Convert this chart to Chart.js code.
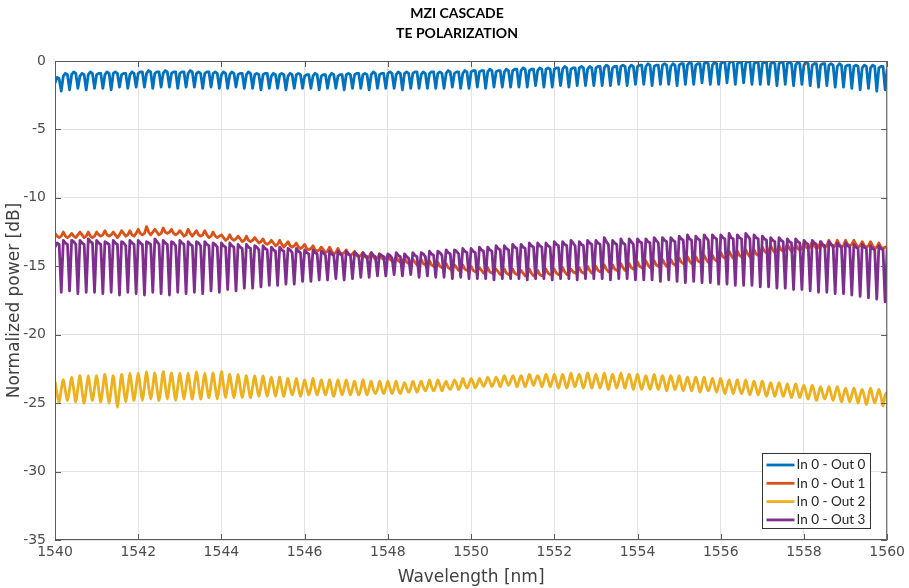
<!DOCTYPE html>
<html>
<head>
<meta charset="utf-8">
<title>MZI CASCADE - TE POLARIZATION</title>
<script src="https://cdn.jsdelivr.net/npm/chart.js@4.4.1/dist/chart.umd.min.js"></script>
<style>
  html, body { margin: 0; padding: 0; background: #ffffff; }
  canvas { display: block; }
</style>
</head>
<body>
<canvas id="spectrum" width="909" height="588"></canvas>
<script>
// Sweep: 1540–1560 nm sampled every 0.05 nm (401 samples per port)
const wavelengthStart = 1540;
const wavelengthStep = 0.05;

const xTicks = [1540, 1542, 1544, 1546, 1548, 1550, 1552, 1554, 1556, 1558, 1560];
const yTicks = [0, -5, -10, -15, -20, -25, -30, -35];

const seriesNames = ['In 0 - Out 0', 'In 0 - Out 1', 'In 0 - Out 2', 'In 0 - Out 3'];

// Normalized transmission [dB], one row per nanometre
const out0 = [
  -1.6,-1.2,-1.3,-2.2, -1.1,-0.9,-1.0,-2.1, -1.0,-0.8,-0.9,-2.0, -1.1,-0.9,-1.0,-2.1, -1.0,-0.8,-0.9,-2.0,
  -1.0,-0.9,-0.9,-2.0, -1.0,-0.8,-0.9,-2.1, -0.9,-0.8,-0.9,-1.9, -1.0,-0.9,-0.9,-2.0, -1.0,-0.8,-0.9,-1.9,
  -0.9,-0.8,-0.8,-1.9, -0.9,-0.7,-0.8,-2.0, -0.9,-0.8,-0.8,-1.9, -0.9,-0.7,-0.8,-1.9, -0.9,-0.8,-0.8,-2.0,
  -0.9,-0.8,-0.8,-1.9, -0.9,-0.7,-0.8,-1.9, -0.9,-0.8,-0.9,-2.0, -0.9,-0.8,-0.8,-1.9, -0.9,-0.8,-0.9,-2.0,
  -1.0,-0.8,-0.9,-2.0, -1.0,-0.8,-0.9,-1.9, -1.0,-0.9,-0.9,-2.0, -1.0,-0.8,-0.9,-2.0, -1.0,-0.9,-1.0,-2.1,
  -1.0,-0.9,-0.9,-2.0, -1.1,-0.9,-1.0,-2.0, -1.0,-0.9,-1.0,-2.1, -1.1,-0.9,-1.0,-2.0, -1.0,-0.9,-1.0,-2.0,
  -1.1,-1.0,-1.0,-2.0, -1.1,-0.9,-1.0,-2.1, -1.1,-1.0,-1.0,-2.0, -1.1,-0.9,-1.0,-2.0, -1.1,-1.0,-1.0,-2.1,
  -1.0,-0.9,-1.0,-2.0, -1.0,-0.9,-0.9,-2.0, -1.0,-0.9,-1.0,-2.1, -1.0,-0.8,-0.9,-2.0, -1.0,-0.9,-0.9,-2.0,
  -0.9,-0.8,-0.9,-2.0, -1.0,-0.8,-0.9,-2.1, -0.9,-0.8,-0.9,-2.0, -0.9,-0.8,-0.8,-2.0, -1.0,-0.8,-0.9,-2.0,
  -0.9,-0.8,-0.8,-2.0, -0.9,-0.8,-0.9,-2.0, -0.9,-0.7,-0.8,-1.9, -0.9,-0.8,-0.8,-2.0, -0.9,-0.7,-0.8,-2.0,
  -0.8,-0.7,-0.7,-1.9, -0.8,-0.7,-0.7,-2.0, -0.8,-0.6,-0.7,-1.9, -0.8,-0.7,-0.7,-1.9, -0.8,-0.6,-0.7,-1.9,
  -0.7,-0.6,-0.6,-1.9, -0.7,-0.5,-0.6,-1.9, -0.7,-0.6,-0.6,-1.8, -0.7,-0.5,-0.6,-1.9, -0.6,-0.5,-0.6,-1.9,
  -0.6,-0.5,-0.5,-1.8, -0.6,-0.4,-0.5,-1.9, -0.6,-0.5,-0.5,-1.8, -0.5,-0.4,-0.5,-1.8, -0.6,-0.4,-0.5,-1.8,
  -0.5,-0.4,-0.4,-1.8, -0.5,-0.3,-0.4,-1.8, -0.5,-0.4,-0.4,-1.7, -0.4,-0.3,-0.4,-1.8, -0.5,-0.3,-0.4,-1.7,
  -0.4,-0.3,-0.3,-1.7, -0.4,-0.2,-0.3,-1.8, -0.4,-0.3,-0.3,-1.7, -0.3,-0.2,-0.3,-1.7, -0.4,-0.2,-0.3,-1.8,
  -0.3,-0.2,-0.2,-1.7, -0.3,-0.1,-0.2,-1.7, -0.3,-0.2,-0.2,-1.6, -0.2,-0.1,-0.2,-1.7, -0.3,-0.1,-0.2,-1.7,
  -0.2,-0.1,-0.1,-1.6, -0.2, 0.0,-0.1,-1.7, -0.2,-0.1,-0.1,-1.6, -0.2, 0.0,-0.1,-1.7, -0.2,-0.1,-0.1,-1.7,
  -0.2,-0.1,-0.1,-1.7, -0.2,-0.1,-0.2,-1.8, -0.2,-0.1,-0.1,-1.7, -0.2,-0.1,-0.2,-1.8, -0.3,-0.1,-0.2,-1.7,
  -0.3,-0.1,-0.2,-1.8, -0.3,-0.2,-0.2,-1.9, -0.3,-0.2,-0.2,-1.8, -0.3,-0.2,-0.3,-1.9, -0.4,-0.2,-0.3,-1.9,
  -0.4,-0.3,-0.3,-2.0, -0.4,-0.3,-0.4,-2.1, -0.5,-0.3,-0.4,-2.0, -0.5,-0.3,-0.4,-2.2, -0.5,-0.4,-0.4,-2.1,
  -0.6
];

const out1 = [
  -12.6,-12.8,-12.9,-12.8, -12.5,-12.8,-12.9,-12.8, -12.6,-12.8,-12.9,-12.7, -12.5,-12.7,-12.9,-12.8, -12.5,-12.8,-12.9,-12.8,
  -12.5,-12.7,-12.8,-12.7, -12.4,-12.7,-12.8,-12.7, -12.5,-12.7,-12.9,-12.7, -12.4,-12.6,-12.8,-12.7, -12.4,-12.7,-12.8,-12.6,
  -12.3,-12.6,-12.7,-12.6, -12.1,-12.5,-12.7,-12.5, -12.3,-12.5,-12.7,-12.6, -12.2,-12.5,-12.6,-12.5, -12.3,-12.6,-12.7,-12.6,
  -12.4,-12.6,-12.8,-12.7, -12.3,-12.6,-12.8,-12.6, -12.4,-12.7,-12.8,-12.7, -12.4,-12.7,-12.9,-12.8, -12.5,-12.8,-12.9,-12.8,
  -12.7,-12.9,-13.1,-13.0, -12.7,-13.0,-13.1,-13.0, -12.8,-13.0,-13.2,-13.1, -12.8,-13.1,-13.2,-13.1, -12.9,-13.1,-13.3,-13.2,
  -13.0,-13.3,-13.4,-13.3, -13.1,-13.3,-13.5,-13.4, -13.1,-13.4,-13.6,-13.4, -13.2,-13.5,-13.6,-13.5, -13.3,-13.6,-13.7,-13.6,
  -13.4,-13.7,-13.8,-13.7, -13.5,-13.8,-13.9,-13.8, -13.6,-13.8,-14.0,-13.9, -13.6,-13.9,-14.1,-14.0, -13.7,-14.0,-14.1,-14.0,
  -13.8,-14.1,-14.2,-14.1, -13.9,-14.2,-14.3,-14.2, -14.0,-14.3,-14.4,-14.3, -14.0,-14.3,-14.5,-14.4, -14.1,-14.4,-14.5,-14.4,
  -14.2,-14.5,-14.6,-14.6, -14.3,-14.6,-14.7,-14.6, -14.4,-14.7,-14.8,-14.7, -14.5,-14.7,-14.9,-14.8, -14.5,-14.8,-14.9,-14.8,
  -14.6,-14.9,-15.0,-15.0, -14.7,-15.0,-15.1,-15.0, -14.8,-15.1,-15.2,-15.1, -14.9,-15.1,-15.3,-15.2, -14.9,-15.2,-15.3,-15.2,
  -15.0,-15.3,-15.4,-15.3, -15.1,-15.3,-15.5,-15.4, -15.1,-15.4,-15.5,-15.4, -15.2,-15.4,-15.6,-15.5, -15.2,-15.5,-15.6,-15.5,
  -15.2,-15.5,-15.6,-15.5, -15.3,-15.5,-15.7,-15.6, -15.2,-15.5,-15.7,-15.6, -15.3,-15.6,-15.7,-15.6, -15.2,-15.5,-15.6,-15.5,
  -15.2,-15.5,-15.6,-15.5, -15.1,-15.4,-15.6,-15.5, -15.2,-15.4,-15.5,-15.4, -15.1,-15.4,-15.5,-15.4, -15.0,-15.3,-15.5,-15.4,
  -15.0,-15.3,-15.4,-15.3, -14.9,-15.2,-15.4,-15.3, -14.9,-15.2,-15.3,-15.2, -14.8,-15.1,-15.3,-15.2, -14.8,-15.1,-15.2,-15.1,
  -14.7,-15.0,-15.1,-15.0, -14.6,-14.9,-15.1,-15.0, -14.6,-14.9,-15.0,-14.9, -14.5,-14.8,-15.0,-14.9, -14.5,-14.8,-14.9,-14.8,
  -14.4,-14.7,-14.8,-14.7, -14.3,-14.6,-14.8,-14.7, -14.3,-14.6,-14.7,-14.6, -14.2,-14.5,-14.7,-14.6, -14.2,-14.5,-14.6,-14.5,
  -14.0,-14.3,-14.4,-14.3, -13.9,-14.2,-14.4,-14.3, -13.9,-14.2,-14.3,-14.2, -13.8,-14.1,-14.3,-14.2, -13.8,-14.1,-14.2,-14.1,
  -13.6,-13.9,-14.0,-13.9, -13.5,-13.8,-14.0,-13.9, -13.5,-13.8,-13.9,-13.8, -13.4,-13.7,-13.9,-13.8, -13.4,-13.7,-13.8,-13.7,
  -13.3,-13.6,-13.7,-13.6, -13.2,-13.5,-13.7,-13.6, -13.2,-13.5,-13.6,-13.5, -13.1,-13.4,-13.6,-13.5, -13.1,-13.4,-13.6,-13.5,
  -13.1,-13.4,-13.5,-13.4, -13.1,-13.4,-13.6,-13.5, -13.2,-13.5,-13.6,-13.5, -13.2,-13.5,-13.7,-13.6, -13.3,-13.6,-13.7,-13.6,
  -13.6
];

const out2 = [
  -23.4,-24.3,-24.9,-24.0, -23.3,-24.1,-24.8,-24.0, -23.1,-24.0,-24.9,-23.9, -23.0,-24.1,-25.0,-24.0, -23.0,-24.0,-24.8,-23.9,
  -23.0,-24.0,-24.9,-23.9, -22.9,-24.0,-25.0,-24.0, -23.0,-24.1,-25.3,-24.1, -22.9,-23.9,-24.9,-23.9, -22.8,-23.9,-24.8,-23.8,
  -22.8,-23.8,-24.8,-23.8, -22.7,-23.8,-24.7,-23.8, -22.8,-23.9,-24.8,-23.8, -22.7,-23.7,-24.7,-23.7, -22.8,-23.8,-24.8,-23.8,
  -22.8,-23.8,-24.7,-23.8, -22.8,-23.8,-24.7,-23.7, -22.7,-23.7,-24.7,-23.8, -22.8,-23.8,-24.6,-23.7, -22.8,-23.8,-24.7,-23.8,
  -22.7,-23.7,-24.6,-23.7, -22.9,-23.8,-24.6,-23.8, -22.9,-23.8,-24.6,-23.8, -23.0,-23.9,-24.6,-23.8, -23.0,-23.8,-24.5,-23.8,
  -23.0,-23.8,-24.5,-23.8, -23.1,-23.8,-24.5,-23.8, -23.1,-23.9,-24.5,-23.8, -23.2,-23.9,-24.4,-23.9, -23.2,-23.9,-24.5,-23.9,
  -23.3,-23.9,-24.4,-23.9, -23.2,-23.9,-24.4,-23.9, -23.3,-23.9,-24.4,-23.9, -23.3,-24.0,-24.5,-23.9, -23.3,-23.9,-24.4,-23.9,
  -23.3,-23.9,-24.4,-23.9, -23.4,-24.0,-24.4,-24.0, -23.3,-23.9,-24.4,-23.9, -23.4,-24.0,-24.3,-24.0, -23.4,-23.9,-24.3,-23.9,
  -23.4,-23.9,-24.3,-23.9, -23.4,-24.0,-24.3,-23.9, -23.5,-23.9,-24.2,-23.9, -23.4,-23.8,-24.2,-23.8, -23.4,-23.8,-24.1,-23.8,
  -23.3,-23.8,-24.1,-23.8, -23.3,-23.7,-24.1,-23.7, -23.4,-23.8,-24.0,-23.7, -23.3,-23.6,-24.0,-23.7, -23.2,-23.6,-23.9,-23.6,
  -23.2,-23.5,-23.9,-23.6, -23.2,-23.5,-23.8,-23.5, -23.1,-23.4,-23.8,-23.5, -23.1,-23.4,-23.8,-23.4, -23.0,-23.4,-23.7,-23.4,
  -23.0,-23.3,-23.8,-23.4, -23.0,-23.4,-23.8,-23.4, -22.9,-23.3,-23.7,-23.3, -23.0,-23.3,-23.8,-23.4, -22.9,-23.3,-23.8,-23.4,
  -22.9,-23.4,-23.9,-23.4, -22.9,-23.4,-23.9,-23.4, -22.8,-23.4,-23.8,-23.3, -22.9,-23.4,-23.9,-23.4, -22.8,-23.3,-23.9,-23.4,
  -22.9,-23.4,-23.9,-23.4, -22.8,-23.4,-24.0,-23.4, -22.9,-23.4,-23.9,-23.4, -22.8,-23.4,-23.9,-23.3, -22.9,-23.4,-24.0,-23.4,
  -22.9,-23.5,-24.0,-23.5, -23.0,-23.5,-24.0,-23.5, -22.9,-23.5,-24.0,-23.5, -23.0,-23.5,-24.1,-23.5, -23.0,-23.5,-24.0,-23.6,
  -23.0,-23.6,-24.1,-23.6, -23.1,-23.6,-24.1,-23.6, -23.1,-23.6,-24.2,-23.7, -23.1,-23.7,-24.1,-23.7, -23.2,-23.7,-24.2,-23.7,
  -23.2,-23.8,-24.3,-23.8, -23.3,-23.8,-24.3,-23.8, -23.3,-23.9,-24.3,-23.9, -23.3,-23.9,-24.4,-23.9, -23.4,-23.9,-24.4,-23.9,
  -23.4,-24.0,-24.5,-24.0, -23.5,-24.0,-24.5,-24.0, -23.5,-24.0,-24.5,-24.1, -23.6,-24.1,-24.6,-24.1, -23.6,-24.1,-24.6,-24.1,
  -23.7,-24.2,-24.7,-24.2, -23.7,-24.2,-24.8,-24.3, -23.8,-24.3,-24.7,-24.3, -23.8,-24.3,-24.8,-24.3, -23.8,-24.3,-24.9,-24.4,
  -23.9,-24.4,-24.9,-24.4, -23.9,-24.4,-25.0,-24.4, -24.0,-24.5,-25.1,-24.5, -23.9,-24.5,-25.0,-24.5, -24.0,-24.5,-25.2,-24.4,
  -24.2
];

const out3 = [
  -13.6,-13.3,-13.4,-16.9, -13.1,-13.3,-13.4,-16.8, -13.1,-13.2,-13.4,-17.0, -13.1,-13.3,-13.4,-16.9, -13.0,-13.2,-13.3,-16.9,
  -13.1,-13.3,-13.4,-17.0, -13.2,-13.3,-13.4,-16.9, -13.1,-13.3,-13.4,-17.1, -13.2,-13.3,-13.5,-16.9, -13.1,-13.3,-13.4,-17.0,
  -13.1,-13.3,-13.4,-17.1, -13.2,-13.3,-13.4,-16.9, -13.0,-13.2,-13.4,-17.0, -13.1,-13.3,-13.4,-17.1, -13.2,-13.3,-13.5,-16.9,
  -13.1,-13.3,-13.4,-17.0, -13.2,-13.4,-13.5,-16.9, -13.2,-13.3,-13.5,-17.0, -13.2,-13.4,-13.5,-16.8, -13.3,-13.4,-13.6,-16.9,
  -13.3,-13.5,-13.6,-16.7, -13.3,-13.5,-13.6,-16.8, -13.4,-13.6,-13.7,-16.6, -13.4,-13.6,-13.7,-16.6, -13.5,-13.6,-13.8,-16.5,
  -13.5,-13.7,-13.8,-16.4, -13.6,-13.8,-13.9,-16.4, -13.6,-13.8,-13.9,-16.3, -13.7,-13.8,-14.0,-16.3, -13.7,-13.9,-14.0,-16.1,
  -13.8,-14.0,-14.1,-16.1, -13.8,-14.0,-14.1,-16.0, -13.9,-14.0,-14.2,-16.0, -13.9,-14.1,-14.2,-15.9, -13.9,-14.1,-14.2,-16.0,
  -13.9,-14.1,-14.2,-15.9, -14.0,-14.1,-14.3,-15.8, -14.0,-14.2,-14.3,-15.8, -14.0,-14.2,-14.3,-15.7, -14.1,-14.2,-14.3,-15.7,
  -14.1,-14.2,-14.4,-15.6, -14.0,-14.2,-14.3,-15.7, -14.1,-14.3,-14.4,-15.6, -14.0,-14.2,-14.3,-15.8, -14.0,-14.1,-14.3,-15.7,
  -13.9,-14.1,-14.2,-15.8, -13.9,-14.0,-14.2,-15.8, -13.8,-14.0,-14.1,-15.9, -13.8,-13.9,-14.1,-15.8, -13.7,-13.9,-14.0,-15.9,
  -13.7,-13.9,-14.0,-15.9, -13.6,-13.8,-13.9,-15.9, -13.6,-13.8,-13.9,-16.0, -13.5,-13.7,-13.8,-15.9, -13.5,-13.7,-13.8,-15.9,
  -13.4,-13.6,-13.7,-15.9, -13.4,-13.6,-13.7,-16.0, -13.3,-13.5,-13.6,-15.9, -13.3,-13.5,-13.6,-15.9, -13.3,-13.5,-13.6,-16.0,
  -13.2,-13.4,-13.5,-15.9, -13.2,-13.4,-13.5,-15.9, -13.1,-13.3,-13.5,-16.0, -13.2,-13.4,-13.5,-15.9, -13.1,-13.3,-13.4,-15.9,
  -13.1,-13.3,-13.4,-15.9, -12.9,-13.2,-13.4,-16.0, -13.1,-13.3,-13.4,-15.9, -13.0,-13.3,-13.4,-15.9, -13.0,-13.2,-13.4,-16.0,
  -13.0,-13.2,-13.3,-16.0, -13.0,-13.2,-13.3,-16.0, -12.9,-13.1,-13.3,-16.1, -12.9,-13.1,-13.2,-16.0, -12.9,-13.1,-13.2,-16.1,
  -12.8,-13.0,-13.1,-16.2, -12.7,-13.0,-13.1,-16.1, -12.8,-13.0,-13.1,-16.2, -12.7,-12.9,-13.1,-16.2, -12.7,-12.9,-13.0,-16.3,
  -12.7,-12.9,-13.0,-16.3, -12.6,-12.9,-13.0,-16.4, -12.7,-12.9,-13.0,-16.4, -12.6,-12.8,-13.0,-16.4, -12.7,-12.9,-13.0,-16.5,
  -12.8,-13.0,-13.1,-16.5, -12.9,-13.1,-13.2,-16.6, -12.9,-13.1,-13.2,-16.6, -13.0,-13.2,-13.3,-16.7, -13.0,-13.2,-13.3,-16.7,
  -13.1,-13.3,-13.4,-16.8, -13.1,-13.3,-13.4,-16.9, -13.2,-13.4,-13.5,-16.9, -13.2,-13.4,-13.5,-17.0, -13.3,-13.5,-13.6,-17.0,
  -13.3,-13.5,-13.6,-17.1, -13.4,-13.6,-13.7,-17.2, -13.4,-13.6,-13.7,-17.3, -13.5,-13.7,-13.8,-17.4, -13.5,-13.7,-13.8,-17.6,
  -13.7
];

const seriesValues = [out0, out1, out2, out3];
const seriesColors = ['#0072BD', '#D95319', '#EDB120', '#7E2F8E'];
// yellow port is smooth and near-sinusoidal; the others have sharp notches
const seriesTension = [0, 0, 0.35, 0];

const FONT = '"DejaVu Sans", Lato, sans-serif';
const LEGEND_FONT = 'Lato, "DejaVu Sans", sans-serif';
const TEXT_GRAY = '#4d4d4d';
const AXIS_GRAY = '#5a5a5a';

function toPoints(values) {
  return values.map((v, i) => ({ x: wavelengthStart + i * wavelengthStep, y: v }));
}

// MATLAB-style frame: box, inward tick marks, legend and the two-line title
const framePlugin = {
  id: 'frame',
  afterDraw(chart) {
    const { ctx, chartArea: a, scales } = chart;
    const xs = scales.x, ys = scales.y;
    const tick = 6;
    ctx.save();
    ctx.strokeStyle = AXIS_GRAY;
    ctx.lineWidth = 1;
    ctx.beginPath();
    ctx.rect(a.left + 0.5, a.top + 0.5, a.right - a.left - 1, a.bottom - a.top - 1);
    ctx.stroke();
    ctx.beginPath();
    xTicks.forEach(v => {
      const px = Math.round(xs.getPixelForValue(v)) + 0.5;
      ctx.moveTo(px, a.bottom); ctx.lineTo(px, a.bottom - tick);
      ctx.moveTo(px, a.top); ctx.lineTo(px, a.top + tick);
    });
    yTicks.forEach(v => {
      const py = Math.round(ys.getPixelForValue(v)) + 0.5;
      ctx.moveTo(a.left, py); ctx.lineTo(a.left + tick, py);
      ctx.moveTo(a.right, py); ctx.lineTo(a.right - tick, py);
    });
    ctx.stroke();

    // legend, lower right corner
    const bw = 108, bh = 75;
    const bx = Math.round(a.right - 17 - bw) + 0.5;
    const by = Math.round(a.bottom - 12 - bh) + 0.5;
    ctx.fillStyle = '#ffffff';
    ctx.fillRect(bx, by, bw, bh);
    ctx.strokeStyle = '#333333';
    ctx.strokeRect(bx, by, bw, bh);
    ctx.font = '13.5px ' + LEGEND_FONT;
    ctx.textBaseline = 'middle';
    ctx.textAlign = 'left';
    seriesNames.forEach((name, i) => {
      const ry = by + 11.5 + i * 18.3;
      ctx.strokeStyle = seriesColors[i];
      ctx.lineWidth = 2.8;
      ctx.beginPath();
      ctx.moveTo(bx + 4, ry); ctx.lineTo(bx + 32, ry);
      ctx.stroke();
      ctx.fillStyle = '#262626';
      ctx.fillText(name, bx + 34, ry);
    });

    // title
    ctx.fillStyle = '#000000';
    ctx.font = 'bold 14px ' + LEGEND_FONT;
    ctx.textAlign = 'center';
    ctx.fillText('MZI CASCADE', 457, 13);
    ctx.fillText('TE POLARIZATION', 457, 33);
    ctx.restore();
  }
};

const orderTopLast = [3, 2, 1, 0];

new Chart(document.getElementById('spectrum'), {
  type: 'line',
  data: {
    datasets: seriesValues.map((vals, i) => ({
      label: seriesNames[i],
      data: toPoints(vals),
      borderColor: seriesColors[i],
      backgroundColor: seriesColors[i],
      borderWidth: 2.8,
      borderJoinStyle: 'round',
      pointRadius: 0,
      tension: seriesTension[i],
      fill: false,
      order: orderTopLast[i]
    }))
  },
  options: {
    responsive: false,
    animation: false,
    events: [],
    layout: { padding: { top: 61, right: 16, left: 0, bottom: 0 } },
    plugins: {
      legend: { display: false },
      title: { display: false },
      tooltip: { enabled: false }
    },
    scales: {
      x: {
        type: 'linear',
        min: 1540,
        max: 1560,
        afterBuildTicks: s => { s.ticks = xTicks.map(v => ({ value: v })); },
        afterFit: s => { s.height = 48; },
        ticks: {
          color: TEXT_GRAY,
          font: { family: FONT, size: 14 },
          padding: 4,
          maxRotation: 0,
          autoSkip: false,
          callback: v => String(v)
        },
        grid: { color: '#e3e3e3', drawTicks: false, lineWidth: 1 },
        border: { display: false },
        title: {
          display: true,
          text: 'Wavelength [nm]',
          color: '#404040',
          font: { family: FONT, size: 17 },
          padding: { top: 1, bottom: 0 }
        }
      },
      y: {
        type: 'linear',
        min: -35,
        max: 0,
        afterBuildTicks: s => { s.ticks = yTicks.map(v => ({ value: v })); },
        afterFit: s => { s.width = 55; },
        ticks: {
          color: TEXT_GRAY,
          font: { family: FONT, size: 14 },
          padding: 9,
          autoSkip: false,
          callback: v => String(v)
        },
        grid: { color: '#e3e3e3', drawTicks: false, lineWidth: 1 },
        border: { display: false },
        title: {
          display: true,
          text: 'Normalized power [dB]',
          color: '#404040',
          font: { family: FONT, size: 17 },
          padding: { top: 4, bottom: 0 }
        }
      }
    }
  },
  plugins: [framePlugin]
});
</script>
</body>
</html>
